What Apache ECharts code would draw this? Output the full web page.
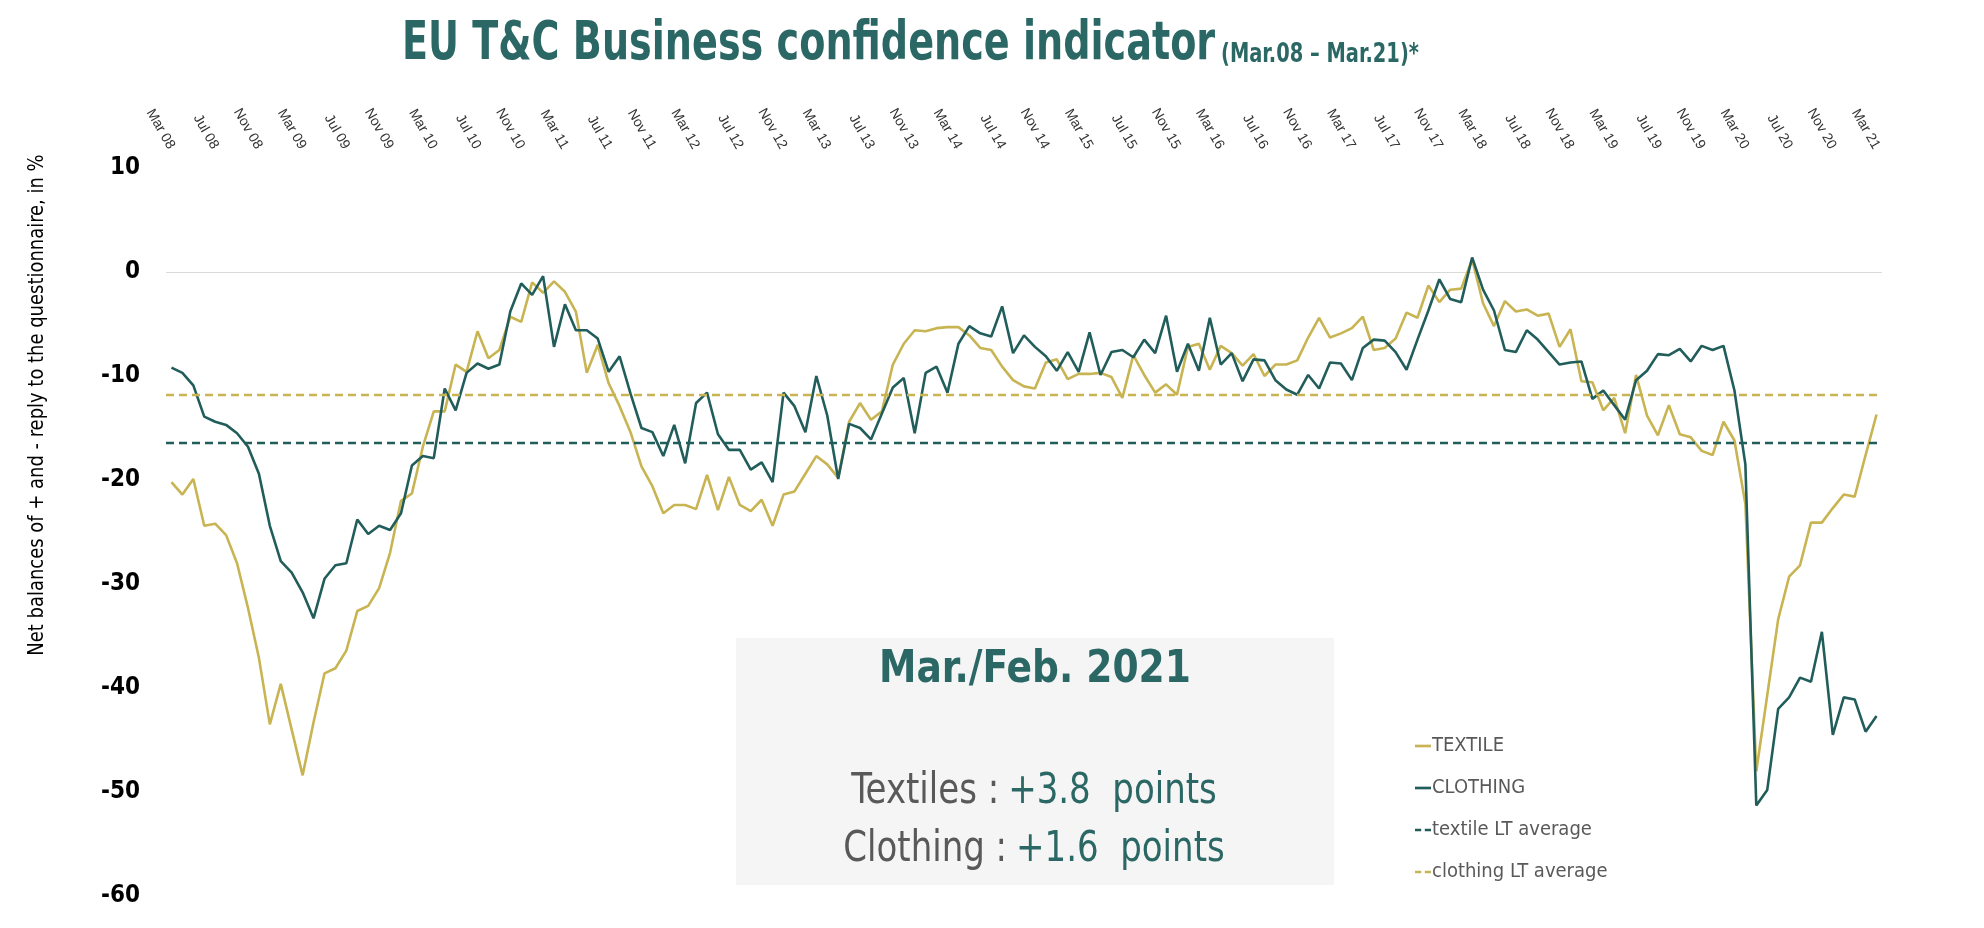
<!DOCTYPE html>
<html>
<head>
<meta charset="utf-8">
<script src="https://cdn.jsdelivr.net/npm/echarts@6/dist/echarts.min.js"></script>
<style>
html,body{margin:0;padding:0;background:#fff;}
#chart{width:1984px;height:928px;}
</style>
</head>
<body>
<div id="chart"></div>
<script>
// ---- DATA ----
const monthNames = ['Jan','Feb','Mar','Apr','May','Jun','Jul','Aug','Sep','Oct','Nov','Dec'];
const startMonth = 2;   // March
const startYear = 2008;
const nMonths = 157;    // Mar 08 .. Mar 21

const textile = [
-20.2,-21.4,-19.9,-24.4,-24.2,-25.3,-28.0,-32.3,-37.1,-43.5,
-39.6,-44.0,-48.4,-43.3,-38.6,-38.1,-36.4,-32.6,-32.1,-30.4,
-27.0,-22.0,-21.3,-16.8,-13.4,-13.4,-8.9,-9.6,-5.7,-8.3,
-7.5,-4.3,-4.8,-1.0,-2.0,-0.9,-1.9,-3.8,-9.7,-7.0,
-10.7,-12.9,-15.4,-18.7,-20.6,-23.2,-22.4,-22.4,-22.8,-19.5,
-22.9,-19.7,-22.4,-23.0,-21.9,-24.4,-21.4,-21.1,-19.4,-17.7,
-18.5,-19.8,-14.4,-12.6,-14.2,-13.4,-8.9,-6.9,-5.6,-5.7,
-5.4,-5.3,-5.3,-6.1,-7.3,-7.5,-9.1,-10.4,-11.0,-11.2,
-8.7,-8.4,-10.3,-9.8,-9.8,-9.7,-10.1,-12.1,-8.0,-9.9,
-11.6,-10.8,-11.8,-7.2,-6.9,-9.4,-7.1,-7.8,-9.0,-7.9,
-10.0,-8.9,-8.9,-8.5,-6.3,-4.4,-6.3,-5.9,-5.4,-4.3,
-7.5,-7.3,-6.4,-3.9,-4.4,-1.3,-2.9,-1.7,-1.6,1.2,
-3.0,-5.2,-2.8,-3.8,-3.6,-4.2,-4.0,-7.2,-5.5,-10.5,
-10.6,-13.3,-12.1,-15.5,-9.9,-13.8,-15.7,-12.8,-15.6,-15.9,
-17.2,-17.6,-14.4,-16.2,-22.3,-48.0,-40.7,-33.4,-29.3,-28.2,
-24.1,-24.1,-22.7,-21.4,-21.6,-17.6,-13.7
];

const clothing = [
-9.2,-9.7,-10.9,-13.9,-14.4,-14.7,-15.5,-16.8,-19.4,-24.4,
-27.8,-28.9,-30.8,-33.3,-29.5,-28.2,-28.0,-23.8,-25.2,-24.4,
-24.8,-23.2,-18.6,-17.7,-17.9,-11.2,-13.3,-9.7,-8.8,-9.3,
-8.9,-3.8,-1.1,-2.2,-0.4,-7.2,-3.1,-5.6,-5.6,-6.4,
-9.6,-8.1,-11.7,-15.0,-15.4,-17.7,-14.7,-18.4,-12.6,-11.6,
-15.6,-17.1,-17.1,-19.0,-18.3,-20.2,-11.6,-12.9,-15.4,-10.0,
-13.8,-19.9,-14.6,-15.0,-16.1,-13.6,-11.1,-10.2,-15.5,-9.7,
-9.1,-11.6,-6.9,-5.2,-5.9,-6.2,-3.3,-7.8,-6.1,-7.2,
-8.1,-9.5,-7.7,-9.6,-5.8,-9.9,-7.7,-7.5,-8.2,-6.5,
-7.8,-4.2,-9.6,-6.9,-9.5,-4.4,-8.9,-7.8,-10.5,-8.4,
-8.5,-10.4,-11.3,-11.8,-9.9,-11.2,-8.7,-8.8,-10.4,-7.3,
-6.5,-6.6,-7.7,-9.4,-6.5,-3.7,-0.7,-2.6,-2.9,1.4,
-1.7,-3.7,-7.5,-7.7,-5.6,-6.5,-7.7,-8.9,-8.7,-8.6,
-12.2,-11.4,-12.8,-14.2,-10.4,-9.5,-7.9,-8.0,-7.4,-8.6,
-7.1,-7.5,-7.1,-11.4,-18.5,-51.3,-49.8,-42.0,-40.9,-39.0,
-39.4,-34.6,-44.5,-40.9,-41.1,-44.2,-42.7
];

const textileLTAverage = -16.4;
const clothingLTAverage = -11.8;

const yTicks = { min: -60, max: 10, interval: 10 };

const seriesNames = ['TEXTILE', 'CLOTHING', 'textile LT average', 'clothing LT average'];

const titleMain = 'EU T&C Business confidence indicator';
const titleSub = '(Mar.08 \u2013 Mar.21)*';
const yAxisTitle = 'Net balances of + and - reply to the questionnaire, in %';
const boxTitle = 'Mar./Feb. 2021';
const boxLines = [
  ['Textiles :', '+3.8  points'],
  ['Clothing :', '+1.6  points']
];

// categories (Mar 08 ... Mar 21)
const categories = [];
for (let k = 0; k < nMonths; k++) {
  const m = (startMonth + k) % 12;
  const y = startYear + Math.floor((startMonth + k) / 12);
  categories.push(monthNames[m] + ' ' + String(y % 100).padStart(2, '0'));
}

// ---- STYLE ----
const TEAL = '#215d5a';
const TITLE_TEAL = '#2b6865';
const GOLD = '#c8b452';
const COND = "'DejaVu Sans Condensed', 'Liberation Sans Narrow', sans-serif";
const ICON_SOLID = 'path://M0,0 H18 V3 H0 Z';
const ICON_DASH = 'path://M0,0 H7 V3 H0 Z M11,0 H18 V3 H11 Z';

const chart = echarts.init(document.getElementById('chart'), null, { renderer: 'canvas' });

const option = {
  backgroundColor: '#ffffff',
  animation: false,
  grid: { left: 166, right: 102, top: 168, bottom: 32, containLabel: false },
  legend: {
    orient: 'vertical',
    left: 1410,
    top: 731,
    itemWidth: 16,
    itemHeight: 3,
    itemGap: 22,
    data: [
      { name: seriesNames[0], icon: ICON_SOLID },
      { name: seriesNames[1], icon: ICON_SOLID },
      { name: seriesNames[2], icon: ICON_DASH },
      { name: seriesNames[3], icon: ICON_DASH }
    ],
    textStyle: { fontFamily: COND, fontSize: 20, color: '#595959', padding: [0, 0, 0, -4] }
  },
  xAxis: {
    type: 'category',
    position: 'top',
    data: categories,
    boundaryGap: true,
    axisLine: { show: false },
    axisTick: { show: false },
    splitLine: { show: false },
    axisLabel: {
      interval: 3,
      rotate: -60,
      margin: 20,
      fontFamily: "'Liberation Sans', Arial, sans-serif",
      fontSize: 14,
      color: '#333333'
    }
  },
  yAxis: {
    type: 'value',
    min: yTicks.min,
    max: yTicks.max,
    interval: yTicks.interval,
    axisLine: { show: false },
    axisTick: { show: false },
    splitLine: { show: false },
    axisLabel: {
      margin: 26,
      fontFamily: COND,
      fontWeight: 'bold',
      fontSize: 24,
      color: '#000000'
    }
  },
  series: [
    {
      name: seriesNames[0],
      type: 'line',
      data: textile,
      symbol: 'none',
      z: 3,
      lineStyle: { color: GOLD, width: 2.6 },
      itemStyle: { color: GOLD }
    },
    {
      name: seriesNames[1],
      type: 'line',
      data: clothing,
      symbol: 'none',
      z: 4,
      lineStyle: { color: TEAL, width: 2.6 },
      itemStyle: { color: TEAL },
      markLine: {
        silent: true,
        symbol: 'none',
        label: { show: false },
        lineStyle: { color: '#d9d9d9', width: 1, type: 'solid' },
        data: [{ yAxis: 0 }],
        z: 1
      }
    },
    {
      name: seriesNames[2],
      type: 'line',
      data: [],
      symbol: 'none',
      lineStyle: { color: TEAL, width: 2.4, type: [8, 5] },
      itemStyle: { color: TEAL },
      markLine: {
        silent: true,
        symbol: 'none',
        label: { show: false },
        lineStyle: { color: TEAL, width: 2.4, type: [8, 5] },
        data: [{ yAxis: textileLTAverage }]
      }
    },
    {
      name: seriesNames[3],
      type: 'line',
      data: [],
      symbol: 'none',
      lineStyle: { color: GOLD, width: 2.4, type: [8, 5] },
      itemStyle: { color: GOLD },
      markLine: {
        silent: true,
        symbol: 'none',
        label: { show: false },
        lineStyle: { color: GOLD, width: 2.4, type: [8, 5] },
        data: [{ yAxis: clothingLTAverage }]
      }
    }
  ],
  graphic: [
    {
      type: 'text',
      x: 402,
      y: 45,
      scaleX: 0.8,
      style: {
        text: titleMain,
        fontFamily: COND,
        fontWeight: 'bold',
        fontSize: 53,
        fill: TITLE_TEAL,
        align: 'left',
        verticalAlign: 'middle'
      }
    },
    {
      type: 'text',
      x: 1221,
      y: 55,
      scaleX: 0.8,
      style: {
        text: titleSub,
        fontFamily: COND,
        fontWeight: 'bold',
        fontSize: 27,
        fill: TITLE_TEAL,
        align: 'left',
        verticalAlign: 'middle'
      }
    },
    {
      type: 'text',
      x: 38,
      y: 405,
      rotation: Math.PI / 2,
      scaleX: 0.95,
      style: {
        text: yAxisTitle,
        fontFamily: COND,
        fontSize: 21,
        fill: '#000000',
        align: 'center',
        verticalAlign: 'middle'
      }
    },
    {
      type: 'rect',
      z: 0,
      shape: { x: 736, y: 638, width: 598, height: 247 },
      style: { fill: '#f5f5f5' }
    },
    {
      type: 'text',
      x: 1035,
      y: 671,
      z: 10,
      scaleX: 0.95,
      style: {
        text: boxTitle,
        fontFamily: COND,
        fontWeight: 'bold',
        fontSize: 44,
        fill: TITLE_TEAL,
        align: 'center',
        verticalAlign: 'middle'
      }
    },
    {
      type: 'text',
      x: 1034,
      y: 792,
      z: 10,
      scaleX: 0.9,
      style: {
        text: '{a|' + boxLines[0][0] + '}   {b|' + boxLines[0][1] + '}',
        align: 'center',
        verticalAlign: 'middle',
        rich: {
          a: { fontFamily: COND, fontSize: 42, fill: '#595959', color: '#595959' },
          b: { fontFamily: COND, fontSize: 42, fill: TITLE_TEAL, color: TITLE_TEAL }
        }
      }
    },
    {
      type: 'text',
      x: 1034,
      y: 850,
      z: 10,
      scaleX: 0.9,
      style: {
        text: '{a|' + boxLines[1][0] + '}   {b|' + boxLines[1][1] + '}',
        align: 'center',
        verticalAlign: 'middle',
        rich: {
          a: { fontFamily: COND, fontSize: 42, fill: '#595959', color: '#595959' },
          b: { fontFamily: COND, fontSize: 42, fill: TITLE_TEAL, color: TITLE_TEAL }
        }
      }
    }
  ]
};

chart.setOption(option);
</script>
</body>
</html>
